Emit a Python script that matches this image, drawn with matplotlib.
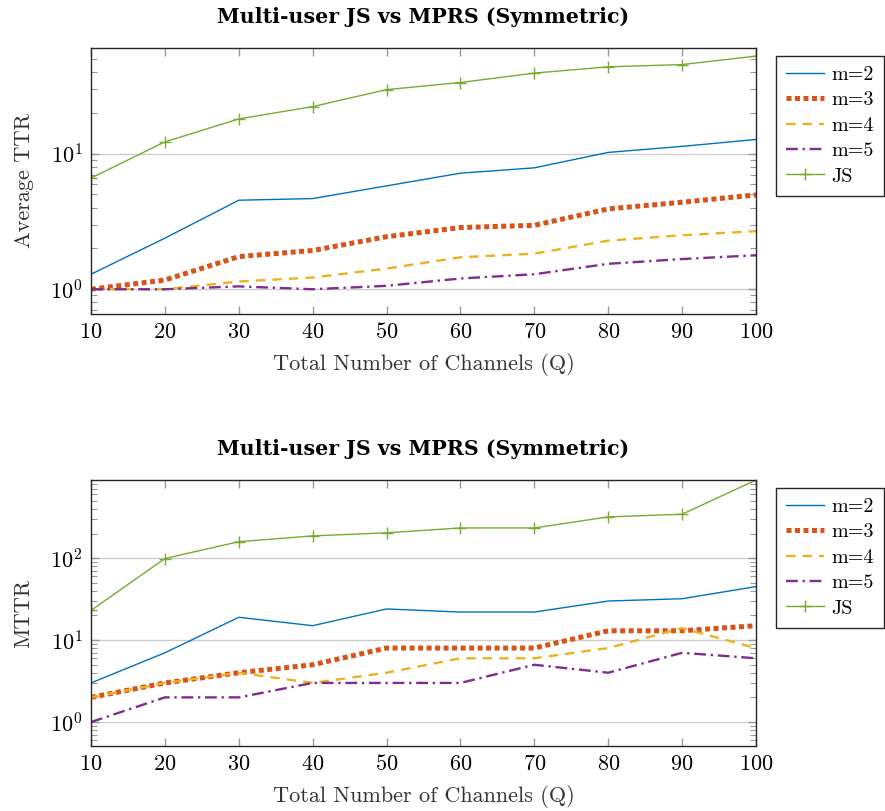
import matplotlib
matplotlib.use("Agg")
import matplotlib.pyplot as plt
from matplotlib.ticker import LogLocator, FixedLocator, NullFormatter

plt.rcParams['font.family'] = 'serif'
plt.rcParams['font.serif'] = ['cmr10']
plt.rcParams['mathtext.fontset'] = 'cm'
plt.rcParams['axes.formatter.use_mathtext'] = True

Q = [10, 20, 30, 40, 50, 60, 70, 80, 90, 100]
labels = ['m=2', 'm=3', 'm=4', 'm=5', 'JS']

ttr_m2 = [1.29, 2.38, 4.53, 4.66, 5.78, 7.17, 7.85, 10.2, 11.3, 12.7]
ttr_m3 = [1.0, 1.17, 1.74, 1.93, 2.44, 2.85, 2.96, 3.91, 4.38, 4.96]
ttr_m4 = [1.0, 1.0, 1.14, 1.22, 1.42, 1.72, 1.83, 2.28, 2.50, 2.68]
ttr_m5 = [1.0, 1.0, 1.05, 1.0, 1.06, 1.2, 1.29, 1.54, 1.67, 1.78]
ttr_js = [6.6, 12.2, 18.0, 22.2, 29.6, 33.4, 39.2, 43.6, 45.3, 52.3]

mttr_m2 = [3, 7, 19, 15, 24, 22, 22, 30, 32, 45]
mttr_m3 = [2, 3, 4, 5, 8, 8, 8, 13, 13, 15]
mttr_m4 = [2, 3, 4, 3, 4, 6, 6, 8, 14, 8]
mttr_m5 = [1, 2, 2, 3, 3, 3, 5, 4, 7, 6]
mttr_js = [23, 99, 159, 187, 204, 234, 234, 319, 344, 900]

colors = ['#0072BD', '#D95319', '#EDB120', '#7E2F8E', '#77AC30']
styles = [
    dict(linestyle='-', linewidth=1.0),
    dict(linestyle=(0, (1.0, 0.7)), linewidth=3.6, dash_capstyle='butt'),
    dict(linestyle=(0, (4.0, 3.0)), linewidth=1.7),
    dict(linestyle=(0, (5.0, 2.0, 1.0, 2.0)), linewidth=1.7),
    dict(linestyle='-', linewidth=1.0, marker='+', markersize=9, markeredgewidth=1.0),
]

fig = plt.figure(figsize=(8.85, 8.11), dpi=100)
W, H = 885, 811

def make_axes(top_px, bottom_px):
    left, right = 91, 756
    return fig.add_axes([left / W, 1 - bottom_px / H, (right - left) / W, (bottom_px - top_px) / H])

def style_axes(ax, series, ylabel, ylim):
    for s, c, st, lab in zip(series, colors, styles, labels):
        ax.plot(Q, s, color=c, label=lab, **st)
    ax.set_yscale('log')
    ax.set_xlim(10, 100)
    ax.set_ylim(*ylim)
    ax.xaxis.set_major_locator(FixedLocator(Q))
    ax.yaxis.set_major_locator(LogLocator(base=10, numticks=10))
    ax.yaxis.set_minor_locator(LogLocator(base=10, subs=range(2, 10), numticks=20))
    ax.yaxis.set_minor_formatter(NullFormatter())
    ax.tick_params(axis='both', which='major', direction='in', top=True, right=True,
                   length=6, width=1.0, color='#9a9a9a', labelsize=16, labelcolor='black', pad=6)
    ax.tick_params(axis='y', which='minor', direction='in', left=True, right=True,
                   length=4, width=0.8, color='#9a9a9a')
    ax.grid(True, axis='y', which='major', color='#cccccc', linewidth=1.0)
    ax.set_axisbelow(True)
    for sp in ax.spines.values():
        sp.set_color('#262626')
        sp.set_linewidth(1.0)
    ax.set_xlabel('Total Number of Channels (Q)', fontsize=16, color='#333333', labelpad=8)
    ax.set_ylabel(ylabel, fontsize=16, color='#333333', labelpad=12)
    ax.set_title('Multi-user JS vs MPRS (Symmetric)', fontsize=14.8, fontfamily='DejaVu Serif',
                 fontweight='bold', pad=18)
    leg = ax.legend(loc='upper left', bbox_to_anchor=(1.03, 0.97), fontsize=14.5,
                    frameon=True, fancybox=False, edgecolor='#262626', framealpha=1,
                    handlelength=1.9, handletextpad=0.35, borderaxespad=0,
                    labelspacing=0.36, borderpad=0.5)
    leg.get_frame().set_linewidth(1.0)

ax1 = make_axes(48, 314)
style_axes(ax1, [ttr_m2, ttr_m3, ttr_m4, ttr_m5, ttr_js], 'Average TTR', (0.657, 60))

ax2 = make_axes(480, 746)
style_axes(ax2, [mttr_m2, mttr_m3, mttr_m4, mttr_m5, mttr_js], 'MTTR', (0.51, 900))

fig.savefig('out.png', dpi=100)
